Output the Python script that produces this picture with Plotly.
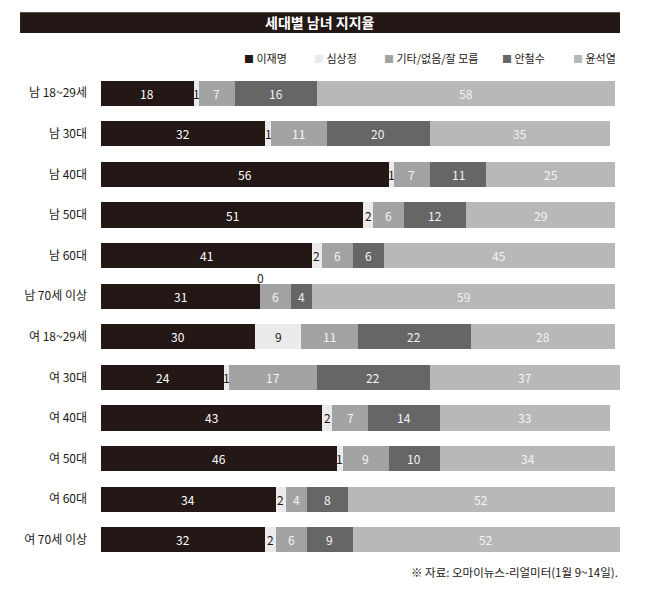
import plotly.graph_objects as go

# 세대별 남녀 지지율 (오마이뉴스-리얼미터, 1월 9~14일)
groups = ["남 18~29세", "남 30대", "남 40대", "남 50대", "남 60대", "남 70세 이상",
          "여 18~29세", "여 30대", "여 40대", "여 50대", "여 60대", "여 70세 이상"]

candidates = ["이재명", "심상정", "기타/없음/잘 모름", "안철수", "윤석열"]

lee = [18, 32, 56, 51, 41, 31, 30, 24, 43, 46, 34, 32]
sim = [1, 1, 1, 2, 2, 0, 9, 1, 2, 1, 2, 2]
etc = [7, 11, 7, 6, 6, 6, 11, 17, 7, 9, 4, 6]
ahn = [16, 20, 11, 12, 6, 4, 22, 22, 14, 10, 8, 9]
yoon = [58, 35, 25, 29, 45, 59, 28, 37, 33, 34, 52, 52]

series = [lee, sim, etc, ahn, yoon]
colors = ["#231815", "#ebebeb", "#a3a3a3", "#666666", "#b8b8b8"]
text_colors = ["#ffffff", "#231815", "#f4f4f4", "#f4f4f4", "#f4f4f4"]
legend_x = [0.272, 0.407, 0.541, 0.769, 0.906]  # left edge of each legend entry (paper)

FONT = "Noto Sans CJK KR"
INK = "#231815"

fig = go.Figure()
for name, vals, col in zip(candidates, series, colors):
    fig.add_trace(go.Bar(
        y=groups, x=vals, name=name, orientation="h",
        marker=dict(color=col, line=dict(width=0)),
        textposition="none", hoverinfo="x+name", showlegend=False,
    ))

# segment labels, centred on each piece of the stack
annotations = []
left = [0] * len(groups)
for k, vals in enumerate(series):
    for i, v in enumerate(vals):
        if v == 0:
            annotations.append(dict(x=left[i], y=groups[i], text="0", showarrow=False,
                                    yshift=19, font=dict(size=12, color=INK, family=FONT)))
        else:
            col = INK if v <= 2 else text_colors[k]
            annotations.append(dict(x=left[i] + v / 2, y=groups[i], text=str(v), showarrow=False,
                                    font=dict(size=12, color=col, family=FONT)))
        left[i] += v

# hand-built legend: coloured square + name
for name, col, lx in zip(candidates, colors, legend_x):
    annotations.append(dict(
        xref="paper", yref="paper", x=lx, y=1.031, xanchor="left", yanchor="middle",
        text=f"<span style='color:{col};font-size:10px'>■</span> {name}", showarrow=False,
        font=dict(size=11, color=INK, family=FONT)))

# title bar text and source note
annotations.append(dict(xref="paper", yref="paper", x=0.422, y=1.1037, xanchor="center",
                        yanchor="middle", text="<b>세대별 남녀 지지율</b>", showarrow=False,
                        font=dict(size=14, color="#ffffff", family=FONT)))
annotations.append(dict(xref="paper", yref="paper", x=1.0, y=-0.0246, xanchor="right",
                        yanchor="middle", text="※ 자료: 오마이뉴스-리얼미터(1월 9~14일).",
                        showarrow=False, font=dict(size=11.5, color=INK, family=FONT)))

fig.update_layout(
    width=650, height=590,
    margin=dict(l=93, r=38, t=65, b=38),
    paper_bgcolor="#ffffff", plot_bgcolor="#ffffff",
    barmode="stack", bargap=0.38,
    font=dict(family=FONT, color=INK, size=12),
    showlegend=False,
    xaxis=dict(range=[0, 101], visible=False, fixedrange=True),
    yaxis=dict(autorange="reversed", showgrid=False, zeroline=False, showline=False,
               ticks="", ticklabelstandoff=13, automargin=False,
               tickfont=dict(size=12, color=INK)),
    shapes=[dict(type="rect", xref="paper", yref="paper", x0=-0.156, x1=1.0,
                 y0=1.082, y1=1.125, fillcolor=INK, line=dict(width=0), layer="below")],
    annotations=annotations,
)

fig.write_html("out.html")
